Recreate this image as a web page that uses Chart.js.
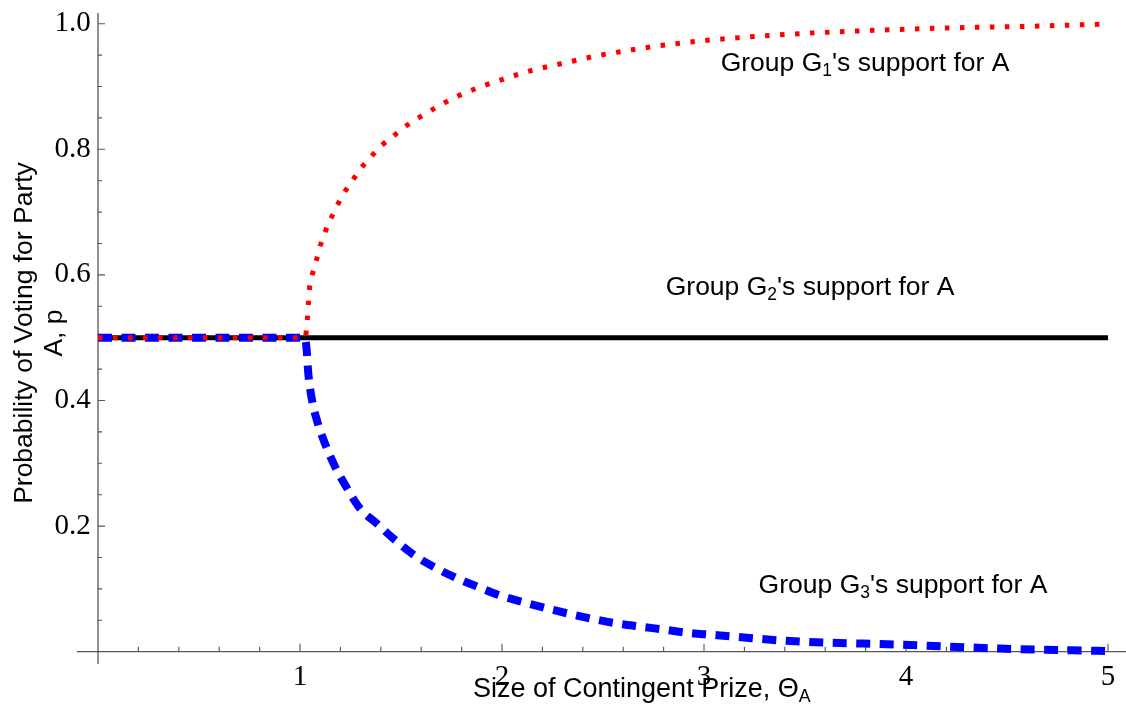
<!DOCTYPE html>
<html>
<head>
<meta charset="utf-8">
<script src="https://cdn.jsdelivr.net/npm/chart.js@4"></script>
<style>
  html, body { margin: 0; padding: 0; background: #fff; }
  #wrap { width: 1126px; height: 704px; position: relative; }
</style>
</head>
<body>
<div id="wrap"><canvas id="chart"></canvas></div>
<script>
// contingent prize (x) and support for party A (y)
const thetaG1 = [0, 1.025, 1.036, 1.041, 1.046, 1.06, 1.079, 1.099, 1.124, 1.152, 1.185, 1.219, 1.261, 1.305, 1.351, 1.404, 1.462, 1.52, 1.644, 1.776, 1.916, 2.0, 2.13, 2.345, 2.489, 2.637, 2.782, 3.0, 3.228, 3.525, 4.183, 4.629, 5.0];
const supportG1 = [0.5, 0.5, 0.528, 0.552, 0.576, 0.599, 0.621, 0.645, 0.668, 0.689, 0.711, 0.731, 0.751, 0.771, 0.788, 0.806, 0.821, 0.836, 0.861, 0.884, 0.902, 0.911, 0.924, 0.940, 0.950, 0.958, 0.965, 0.973, 0.979, 0.985, 0.993, 0.996, 0.9995];

const thetaG2 = [0, 5];
const supportG2 = [0.5, 0.5];

const thetaG3 = [0, 1.025, 1.033, 1.041, 1.058, 1.086, 1.124, 1.173, 1.228, 1.297, 1.38, 1.47, 1.564, 1.668, 1.776, 1.883, 1.994, 2.105, 2.221, 2.337, 2.452, 2.568, 2.683, 2.807, 2.922, 3.038, 3.153, 3.393, 3.987, 4.465, 5.0];
const supportG3 = [0.5, 0.5, 0.48, 0.443, 0.403, 0.366, 0.331, 0.295, 0.263, 0.228, 0.204, 0.178, 0.154, 0.134, 0.117, 0.103, 0.089, 0.079, 0.069, 0.060, 0.052, 0.045, 0.040, 0.035, 0.030, 0.027, 0.024, 0.0175, 0.011, 0.005, 0.001];

const xTicks = [1, 2, 3, 4, 5];
const yTicks = [0.2, 0.4, 0.6, 0.8, 1.0];

// curve labels: [x, y (baseline), group number]
const groupLabels = [
  [3.797, 0.925, '1'],
  [3.525, 0.568, '2'],
  [3.985, 0.0935, '3'],
];

const AXIS_COLOR = '#555';
const SANS = "'Liberation Sans', Arial, sans-serif";
const SERIF = "'Liberation Serif', 'Times New Roman', serif";

const toPoints = (xs, ys) => xs.map((x, i) => ({ x, y: ys[i] }));

// draws text pieces, [text, isSubscript]
function drawRich(ctx, parts, size, x, y, align) {
  const subSize = size * 0.66;
  const widths = parts.map(([t, sub]) => {
    ctx.font = (sub ? subSize : size) + 'px ' + SANS;
    return ctx.measureText(t).width;
  });
  const total = widths.reduce((a, b) => a + b, 0);
  let cx = align === 'center' ? x - total / 2 : x;
  parts.forEach(([t, sub], i) => {
    ctx.font = (sub ? subSize : size) + 'px ' + SANS;
    ctx.fillText(t, cx, sub ? y + size * 0.2 : y);
    cx += widths[i];
  });
}

const axesPlugin = {
  id: 'axesPlugin',
  beforeDatasetsDraw(chart) {
    const { ctx, chartArea: a, scales: { x, y } } = chart;
    const x0 = x.getPixelForValue(0);
    const y0 = y.getPixelForValue(0);
    ctx.save();
    ctx.strokeStyle = AXIS_COLOR;
    ctx.lineWidth = 1.3;
    ctx.beginPath();
    ctx.moveTo(a.left, y0); ctx.lineTo(a.right, y0);
    ctx.moveTo(x0, a.top); ctx.lineTo(x0, a.bottom);
    ctx.stroke();

    ctx.lineWidth = 1.1;
    ctx.beginPath();
    for (let i = 1; i <= 25; i++) {
      const px = x.getPixelForValue(i * 0.2);
      const len = i % 5 === 0 ? 8 : 5;
      ctx.moveTo(px, y0); ctx.lineTo(px, y0 - len);
    }
    for (let i = 1; i <= 20; i++) {
      const py = y.getPixelForValue(i * 0.05);
      const len = i % 4 === 0 ? 7 : 4;
      ctx.moveTo(x0, py); ctx.lineTo(x0 + len, py);
    }
    ctx.stroke();
    ctx.restore();
  },
  afterDatasetsDraw(chart) {
    const { ctx, chartArea: a, scales: { x, y } } = chart;
    ctx.save();
    ctx.fillStyle = '#000';
    ctx.textBaseline = 'alphabetic';

    groupLabels.forEach(([gx, gy, n]) => {
      drawRich(ctx, [['Group G', false], [n, true], ["'s support for A", false]],
        26.5, x.getPixelForValue(gx), y.getPixelForValue(gy), 'center');
    });

    // x axis title
    drawRich(ctx, [['Size of Contingent Prize, \u0398', false], ['A', true]],
      27, a.left + 396, a.bottom + 33, 'left');

    // y axis title, two rotated lines
    ctx.translate(0, 333);
    ctx.rotate(-Math.PI / 2);
    ctx.font = '26.5px ' + SANS;
    ctx.textAlign = 'center';
    ctx.fillText('Probability of Voting for Party', 0, 32);
    ctx.fillText('A, p', 0, 62);
    ctx.restore();
  }
};

// first dataset is drawn on top in Chart.js
new Chart(document.getElementById('chart'), {
  type: 'line',
  data: {
    datasets: [
      {
        label: "Group G1's support for A",
        data: toPoints(thetaG1, supportG1),
        borderColor: '#ff0000',
        borderWidth: 5,
        borderDash: [4.5, 10.5],
        borderCapStyle: 'butt',
        pointRadius: 0,
        cubicInterpolationMode: 'monotone',
      },
      {
        label: "Group G3's support for A",
        data: toPoints(thetaG3, supportG3),
        borderColor: '#0000ff',
        borderWidth: 8,
        borderDash: [14, 9.5],
        borderCapStyle: 'butt',
        pointRadius: 0,
        cubicInterpolationMode: 'monotone',
      },
      {
        label: "Group G2's support for A",
        data: toPoints(thetaG2, supportG2),
        borderColor: '#000000',
        borderWidth: 5,
        pointRadius: 0,
      },
    ]
  },
  options: {
    responsive: true,
    maintainAspectRatio: false,
    animation: false,
    layout: { padding: { left: 77, top: 13, right: 0, bottom: 40 } },
    plugins: {
      legend: { display: false },
      tooltip: { enabled: false },
    },
    scales: {
      x: {
        type: 'linear',
        position: { y: 0 },
        min: -0.104,
        max: 5.089,
        grid: { display: false, drawTicks: false },
        border: { display: false },
        afterBuildTicks(s) { s.ticks = xTicks.map(v => ({ value: v })); },
        afterFit(s) { s.paddingLeft = 0; s.paddingRight = 0; },
        ticks: {
          autoSkip: false,
          maxRotation: 0,
          padding: 8,
          color: '#000',
          font: { family: SERIF, size: 29 },
          callback: v => String(v),
        },
      },
      y: {
        type: 'linear',
        position: { x: 0 },
        min: -0.0196,
        max: 1.017,
        grid: { display: false, drawTicks: false },
        border: { display: false },
        afterBuildTicks(s) { s.ticks = yTicks.map(v => ({ value: v })); },
        afterFit(s) { s.paddingTop = 0; s.paddingBottom = 0; },
        ticks: {
          autoSkip: false,
          color: '#000',
          font: { family: SERIF, size: 29 },
          // value-positioned axes ignore tick padding, so a trailing space keeps the gap
          callback: v => v.toFixed(1) + ' ',
        },
      },
    }
  },
  plugins: [axesPlugin]
});
</script>
</body>
</html>
